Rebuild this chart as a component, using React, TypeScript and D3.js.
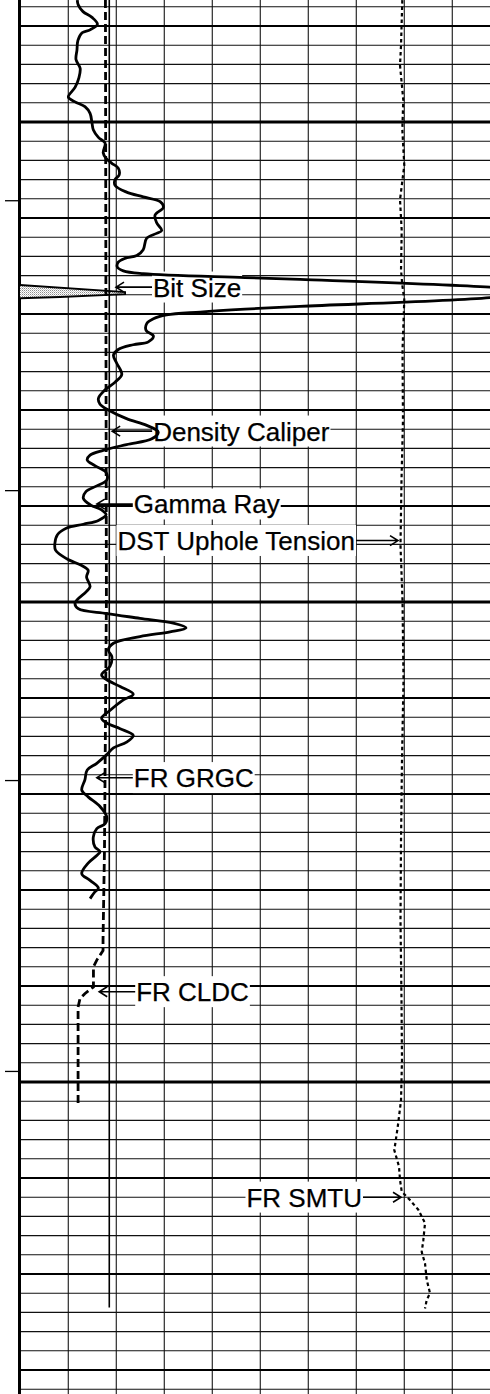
import React, { useEffect, useRef } from "react";
import * as d3 from "d3";

const WIDTH = 490;
const HEIGHT = 1394;

// Depth window of the track (m) and the track's value grid (10 divisions)
const depthWindow: [number, number] = [1487.29, 1632.5];
const depthTicks = [1508.2, 1538.4, 1568.6, 1598.9];

// Curve scales (left → right across the 10 divisions)
const gammaRange: [number, number] = [0, 150]; // gAPI
const caliperRange: [number, number] = [6, 16]; // in
const tensionRange: [number, number] = [0, 10000]; // lbf

// [depth m, gAPI]
const gammaRay: [number, number][] = [
  [1487.3, 17.9], [1487.8, 18.2], [1488.5, 19.7], [1489.1, 22.5], [1489.8, 24.2],
  [1490.4, 21.9], [1490.7, 19.4], [1491.5, 18.1], [1492.5, 17.8], [1493.5, 17.5],
  [1494.4, 18.8], [1495.4, 18.4], [1496.4, 17.2], [1497.4, 15.1], [1497.9, 17.2],
  [1498.4, 20.3], [1499.1, 21.9], [1500.1, 22.5], [1500.8, 22.9], [1501.6, 24.5],
  [1502.2, 26.6], [1503.2, 26.0], [1503.8, 26.9], [1504.3, 28.7], [1504.8, 30.7],
  [1505.5, 31.0], [1506.0, 29.7], [1506.6, 29.7], [1507.3, 33.3], [1507.8, 38.5],
  [1508.3, 43.8], [1508.9, 44.8], [1509.7, 42.2], [1510.5, 42.7], [1511.3, 44.3],
  [1511.6, 42.7], [1512.1, 39.6], [1513.3, 38.5], [1513.9, 36.5], [1514.2, 32.8],
  [1514.6, 30.7], [1515.1, 30.4], [1515.5, 32.3], [1515.8, 38.5], [1516.2, 70.3],
  [1516.4, 87.5], [1517.2, 146.9], [1517.6, 162.5], [1518.3, 146.9], [1519.2, 87.5],
  [1519.5, 70.3], [1519.8, 56.3], [1520.1, 45.8], [1520.5, 41.7], [1521.0, 39.6],
  [1521.7, 39.4], [1522.3, 41.7], [1522.9, 40.1], [1523.2, 35.4], [1523.7, 30.7],
  [1524.3, 29.2], [1525.1, 30.2], [1526.3, 31.8], [1527.1, 29.7], [1527.9, 26.6],
  [1528.8, 24.5], [1529.4, 25.0], [1530.0, 27.6], [1530.9, 33.3], [1531.6, 39.6],
  [1532.3, 43.2], [1533.0, 41.2], [1533.6, 33.3], [1534.2, 26.0], [1534.7, 21.9],
  [1535.2, 21.0], [1535.8, 23.4], [1536.5, 26.9], [1537.3, 27.1], [1537.9, 24.0],
  [1538.5, 20.6], [1539.2, 19.8], [1539.9, 22.1], [1540.4, 25.5], [1540.9, 26.9],
  [1541.5, 24.5], [1541.9, 19.8], [1542.3, 14.6], [1543.0, 11.7], [1543.9, 10.9],
  [1544.6, 11.1], [1545.5, 14.6], [1546.2, 19.3], [1546.7, 21.3], [1547.4, 20.8],
  [1548.4, 21.9], [1548.9, 20.8], [1550.1, 17.2], [1550.7, 18.2], [1551.2, 27.1],
  [1551.7, 37.5], [1552.2, 47.9], [1552.7, 51.9], [1553.1, 46.9], [1553.6, 37.5],
  [1554.3, 29.2], [1555.0, 27.6], [1555.7, 28.7], [1556.7, 28.1], [1557.6, 25.5],
  [1558.1, 27.1], [1558.8, 31.3], [1559.6, 35.4], [1560.2, 32.3], [1561.3, 28.1],
  [1562.1, 25.5], [1562.6, 27.1], [1563.2, 31.3], [1563.9, 35.4], [1564.6, 33.3],
  [1565.2, 29.2], [1565.9, 27.1], [1566.8, 24.0], [1567.5, 21.0], [1568.5, 20.3],
  [1569.6, 19.3], [1570.3, 21.3], [1571.3, 25.0], [1572.4, 27.1], [1573.1, 26.6],
  [1573.6, 24.0], [1574.5, 22.9], [1575.5, 23.4], [1576.0, 25.0], [1576.4, 24.0],
  [1577.2, 21.3], [1578.3, 19.3], [1579.0, 21.9], [1579.8, 24.5], [1580.2, 23.4],
  [1580.9, 21.9],
];

// [depth m, in]
const densityCaliper: [number, number][] = [
  [1487.3, 7.78], [1518.5, 7.79], [1549.8, 7.8], [1575.8, 7.76], [1585.2, 7.73],
  [1586.3, 7.73], [1587.3, 7.6], [1588.0, 7.53], [1590.1, 7.53], [1590.8, 7.35],
  [1591.3, 7.25], [1592.2, 7.21], [1602.6, 7.21],
];

// [depth m, in]
const bitSize: [number, number][] = [
  [1487.3, 7.86], [1623.5, 7.86],
];

// shaded bit-size flag, [depth m, in]
const bitSizeFlag: [number, number][] = [
  [1516.98, 6.0], [1517.71, 8.19], [1517.92, 8.19], [1518.23, 6.83], [1518.36, 6.0],
];

// [depth m, lbf]
const upholeTension: [number, number][] = [
  [1487.3, 7965], [1492.0, 7938], [1494.1, 7917], [1497.7, 7985], [1500.8, 7965],
  [1504.5, 8006], [1508.1, 7917], [1511.3, 7952], [1515.4, 7938], [1517.0, 7965],
  [1518.5, 8006], [1523.8, 7969], [1531.0, 7979], [1537.3, 7948], [1544.1, 7927],
  [1549.8, 7969], [1558.1, 7990], [1566.5, 7958], [1574.8, 7938], [1583.1, 7927],
  [1591.5, 7948], [1597.7, 7958], [1601.9, 7938], [1604.7, 7869], [1607.1, 7798],
  [1608.8, 7896], [1610.2, 7917], [1611.4, 7952], [1612.3, 8125], [1613.3, 8298],
  [1614.7, 8438], [1616.5, 8402], [1617.7, 8369], [1618.9, 8438], [1620.6, 8473],
  [1622.0, 8542], [1622.7, 8473], [1623.6, 8438],
];

// Curve labels: where each arrow points (depth, value on its curve's scale)
type Annot = { text: string; scale: "gr" | "cal" | "ten"; depth: number; value: number; dir: "left" | "right"; len: number };
const annotations: Annot[] = [
  { text: "Bit Size", scale: "cal", depth: 1517.2, value: 8.0, dir: "left", len: 37 },
  { text: "Density Caliper", scale: "cal", depth: 1532.2, value: 7.92, dir: "left", len: 41 },
  { text: "Gamma Ray", scale: "gr", depth: 1539.8, value: 24.0, dir: "left", len: 37 },
  { text: "DST Uphole Tension", scale: "ten", depth: 1543.6, value: 7875, dir: "right", len: 43 },
  { text: "FR GRGC", scale: "gr", depth: 1568.3, value: 24.0, dir: "left", len: 37 },
  { text: "FR CLDC", scale: "cal", depth: 1590.6, value: 7.65, dir: "left", len: 37 },
  { text: "FR SMTU", scale: "ten", depth: 1612.0, value: 7938, dir: "right", len: 39 },
];

const FONT = "'Liberation Sans', Arial, Helvetica, sans-serif";

export default function App() {
  const ref = useRef<SVGSVGElement>(null);

  useEffect(() => {
    const svg = d3.select(ref.current);
    svg.selectAll("*").remove();

    const left = 20;
    const right = 500;
    const y = d3.scaleLinear().domain(depthWindow).range([0, HEIGHT]);
    const xDiv = d3.scaleLinear().domain([0, 10]).range([left, right]);
    const xGr = d3.scaleLinear().domain(gammaRange).range([left, right]);
    const xCal = d3.scaleLinear().domain(caliperRange).range([left, right]);
    const xTen = d3.scaleLinear().domain(tensionRange).range([left, right]);
    const scales = { gr: xGr, cal: xCal, ten: xTen };

    const defs = svg.append("defs");
    defs.append("clipPath").attr("id", "track-clip")
      .append("rect").attr("x", left).attr("y", 0).attr("width", right - left).attr("height", HEIGHT);
    const pat = defs.append("pattern").attr("id", "stipple")
      .attr("width", 2).attr("height", 2).attr("patternUnits", "userSpaceOnUse");
    pat.append("rect").attr("width", 2).attr("height", 2).attr("fill", "#ffffff");
    pat.append("rect").attr("width", 1).attr("height", 1).attr("fill", "#8c8c8c");
    pat.append("rect").attr("x", 1).attr("y", 1).attr("width", 1).attr("height", 1).attr("fill", "#c8c8c8");

    svg.append("rect").attr("width", WIDTH).attr("height", HEIGHT).attr("fill", "#fff");

    const grid = svg.append("g").attr("clip-path", "url(#track-clip)");
    // vertical division lines
    grid.selectAll("line.v").data(d3.range(1, 11)).join("line")
      .attr("x1", (d) => xDiv(d) + 0.3).attr("x2", (d) => xDiv(d) + 0.3)
      .attr("y1", 0).attr("y2", HEIGHT)
      .attr("stroke", "#2a2a2a").attr("stroke-width", 1.2);
    // depth lines: 2 m, 10 m, 50 m
    const d0 = Math.ceil(depthWindow[0] / 2) * 2;
    const depthLines = d3.range(d0, depthWindow[1], 2);
    grid.selectAll("line.h").data(depthLines).join("line")
      .attr("x1", left).attr("x2", right)
      .attr("y1", (d) => y(d)).attr("y2", (d) => y(d))
      .attr("stroke", (d) => (d % 10 === 0 ? "#000" : "#111"))
      .attr("stroke-width", (d) => (d % 50 === 0 ? 3 : d % 10 === 0 ? 2 : 1.1));

    // left track border and depth ticks
    svg.append("line").attr("x1", 19.5).attr("x2", 19.5).attr("y1", 0).attr("y2", HEIGHT)
      .attr("stroke", "#000").attr("stroke-width", 3);
    svg.selectAll("line.tick").data(depthTicks).join("line")
      .attr("x1", 5).attr("x2", 18)
      .attr("y1", (d) => y(d)).attr("y2", (d) => y(d))
      .attr("stroke", "#000").attr("stroke-width", 1.3);

    // labels with knocked-out background
    const labels = svg.append("g");
    annotations.forEach((a) => {
      const tipX = scales[a.scale](a.value);
      const tipY = y(a.depth);
      const baseline = tipY + 9.4;
      const g = labels.append("g");
      const box = g.append("rect").attr("fill", "#fff");
      const t = g.append("text")
        .attr("font-family", FONT).attr("font-size", 26).attr("fill", "#000")
        .attr("stroke", "#000").attr("stroke-width", 0.25)
        .attr("y", baseline).text(a.text);
      let boxL: number, boxR: number, lineFrom: number, head: string;
      if (a.dir === "left") {
        const tx = tipX + a.len;
        t.attr("x", tx).attr("text-anchor", "start");
        const w = (t.node() as SVGTextElement).getComputedTextLength();
        boxL = tx - 1; boxR = tx + w + 1; lineFrom = boxL;
        head = `M${tipX + 8},${tipY - 5}L${tipX},${tipY}L${tipX + 8},${tipY + 5}`;
      } else {
        const tx = tipX - a.len;
        t.attr("x", tx).attr("text-anchor", "end");
        const w = (t.node() as SVGTextElement).getComputedTextLength();
        boxL = tx - w - 1; boxR = tx + 1; lineFrom = boxR;
        head = `M${tipX - 8},${tipY - 5}L${tipX},${tipY}L${tipX - 8},${tipY + 5}`;
      }
      box.attr("x", boxL).attr("width", boxR - boxL)
        .attr("y", baseline - 25).attr("height", 31);
      g.append("path")
        .attr("d", `M${lineFrom},${tipY}L${tipX},${tipY}` + head)
        .attr("fill", "none").attr("stroke", "#000").attr("stroke-width", 1.6);
    });

    const curves = svg.append("g").attr("clip-path", "url(#track-clip)");

    // bit-size flag (stippled wedge)
    curves.append("path")
      .attr("d", d3.area<[number, number]>()
        .y((d) => y(d[0])).x0(xCal(caliperRange[0])).x1((d) => xCal(d[1]))(bitSizeFlag))
      .attr("fill", "url(#stipple)").attr("stroke", "none");
    curves.append("path")
      .attr("d", d3.line<[number, number]>().x((d) => xCal(d[1])).y((d) => y(d[0]))(bitSizeFlag))
      .attr("fill", "none").attr("stroke", "#000").attr("stroke-width", 1.8);

    // bit size
    curves.append("path")
      .attr("d", d3.line<[number, number]>().x((d) => xCal(d[1])).y((d) => y(d[0]))(bitSize))
      .attr("fill", "none").attr("stroke", "#000").attr("stroke-width", 1.6);

    // density caliper (dashed)
    curves.append("path")
      .attr("d", d3.line<[number, number]>().x((d) => xCal(d[1])).y((d) => y(d[0]))(densityCaliper))
      .attr("fill", "none").attr("stroke", "#000").attr("stroke-width", 2.8)
      .attr("stroke-dasharray", "8,4");

    // uphole tension (dotted)
    curves.append("path")
      .attr("d", d3.line<[number, number]>().x((d) => xTen(d[1])).y((d) => y(d[0]))(upholeTension))
      .attr("fill", "none").attr("stroke", "#000").attr("stroke-width", 2.2)
      .attr("stroke-dasharray", "3.5,3");

    // gamma ray
    curves.append("path")
      .attr("d", d3.line<[number, number]>().x((d) => xGr(d[1])).y((d) => y(d[0]))
        .curve(d3.curveCatmullRom.alpha(0.5))(gammaRay))
      .attr("fill", "none").attr("stroke", "#000").attr("stroke-width", 2.8)
      .attr("stroke-linejoin", "round");
  }, []);

  return (
    <svg
      ref={ref}
      width={WIDTH}
      height={HEIGHT}
      style={{ position: "absolute", left: 0, top: 0, display: "block" }}
    />
  );
}
